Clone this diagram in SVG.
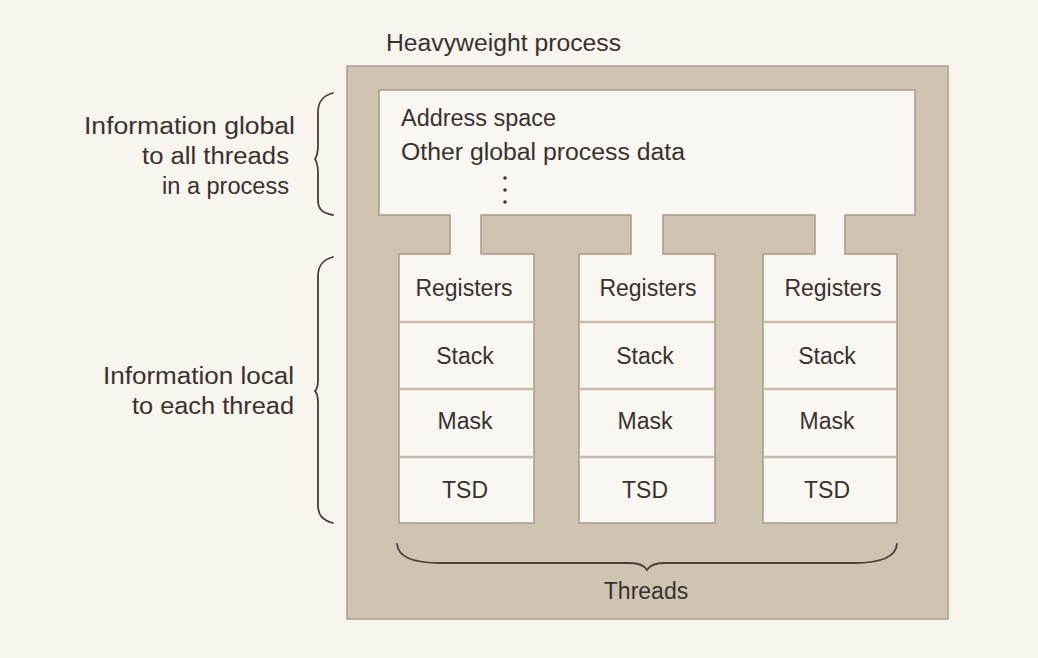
<svg xmlns="http://www.w3.org/2000/svg" width="1038" height="658" viewBox="0 0 1038 658">
<style>
text{font-family:"Liberation Sans",Arial,sans-serif;font-size:23px;fill:#38322f}
.c{text-anchor:middle}
.r{text-anchor:end}
.div{stroke:#c9bba8;stroke-width:2.5}
.brace{fill:none;stroke:#4a403b;stroke-width:1.8;stroke-linecap:round}
</style>
<rect x="0" y="0" width="1038" height="658" fill="#f8f4ee"/>
<g id="process">
<rect x="347" y="66" width="601" height="553" fill="#cfc3b2" stroke="#ad9e8b" stroke-width="1.5"/>
<text x="386" y="51" textLength="235" lengthAdjust="spacingAndGlyphs">Heavyweight process</text>
</g>
<g id="global-area">
<path d="M379,90 H915 V215 H845 V254 H897 V523 H763 V254 H815 V215 H663 V254 H715 V523 H579 V254 H631 V215 H481 V254 H534 V523 H399 V254 H450 V215 H379 Z" fill="#faf7f2" stroke="#a99a87" stroke-width="1.5"/>
<text x="401" y="126" textLength="155" lengthAdjust="spacingAndGlyphs">Address space</text>
<text x="401" y="160" textLength="284" lengthAdjust="spacingAndGlyphs">Other global process data</text>
<circle cx="505" cy="178" r="1.8" fill="#38322f"/>
<circle cx="505" cy="190" r="1.8" fill="#38322f"/>
<circle cx="505" cy="202" r="1.8" fill="#38322f"/>
</g>
<g id="thread1">
<line class="div" x1="400" y1="322" x2="533" y2="322"/>
<line class="div" x1="400" y1="389" x2="533" y2="389"/>
<line class="div" x1="400" y1="457" x2="533" y2="457"/>
<text class="c" x="464" y="296">Registers</text>
<text class="c" x="465" y="364">Stack</text>
<text class="c" x="465" y="429">Mask</text>
<text class="c" x="465" y="498">TSD</text>
</g>
<g id="thread2">
<line class="div" x1="580" y1="322" x2="714" y2="322"/>
<line class="div" x1="580" y1="389" x2="714" y2="389"/>
<line class="div" x1="580" y1="457" x2="714" y2="457"/>
<text class="c" x="648" y="296">Registers</text>
<text class="c" x="645" y="364">Stack</text>
<text class="c" x="645" y="429">Mask</text>
<text class="c" x="645" y="498">TSD</text>
</g>
<g id="thread3">
<line class="div" x1="764" y1="322" x2="896" y2="322"/>
<line class="div" x1="764" y1="389" x2="896" y2="389"/>
<line class="div" x1="764" y1="457" x2="896" y2="457"/>
<text class="c" x="833" y="296">Registers</text>
<text class="c" x="827" y="364">Stack</text>
<text class="c" x="827" y="429">Mask</text>
<text class="c" x="827" y="498">TSD</text>
</g>
<g id="label-global">
<text x="84" y="134" textLength="211" lengthAdjust="spacingAndGlyphs">Information global</text>
<text x="142" y="164" textLength="147" lengthAdjust="spacingAndGlyphs">to all threads</text>
<text x="162" y="194" textLength="127" lengthAdjust="spacingAndGlyphs">in a process</text>
</g>
<g id="label-local">
<text x="103" y="384" textLength="191" lengthAdjust="spacingAndGlyphs">Information local</text>
<text x="132" y="414" textLength="162" lengthAdjust="spacingAndGlyphs">to each thread</text>
</g>
<g id="label-threads">
<text class="c" x="646" y="599">Threads</text>
</g>
<g id="connectors">
<path class="brace" d="M333,93 C322,96 318,102 318,112 V145 C318,152 317,156 315,159 C317,162 318,166 318,173 V200 C318,209 322,213 333,215"/>
<path class="brace" d="M333,257 C322,260 318,266 318,276 V380 C318,386 317,389 315,391 C317,393 318,397 318,403 V505 C318,515 322,520 333,523"/>
<path class="brace" d="M397,544 C398,556 412,563 440,563 H630 C638,563 644,565 647,570 C650,565 656,563 664,563 H854 C882,563 896,556 897,544"/>
</g>
</svg>
